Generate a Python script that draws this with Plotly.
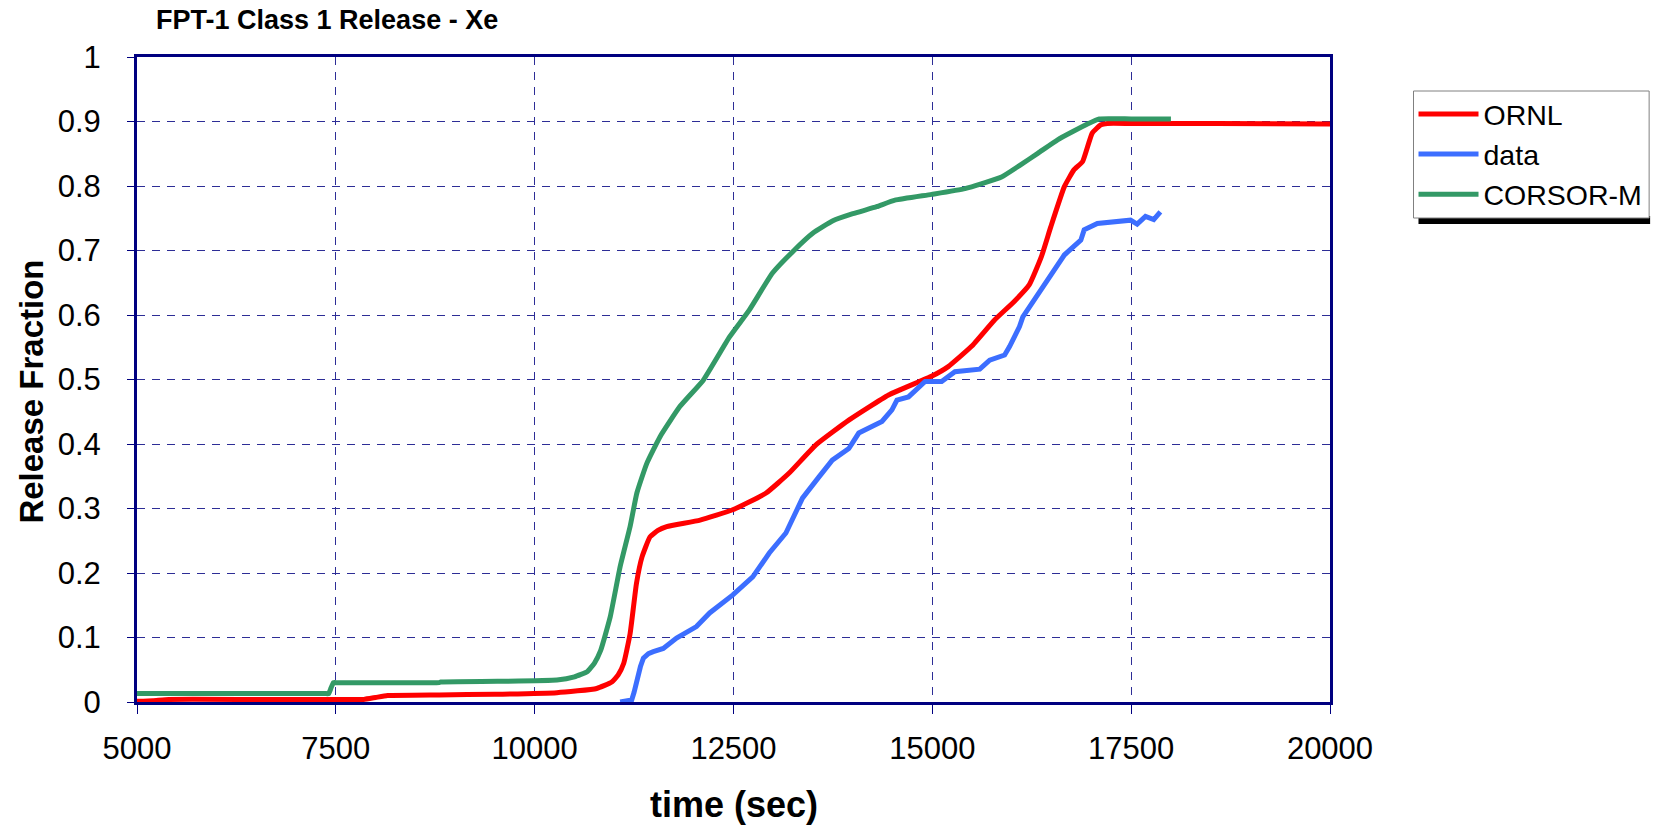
import plotly.graph_objects as go

# ORNL model release fraction
ornl_t = [5000, 5200, 5400, 6500, 7700, 7850, 8000, 8150, 8800, 9500, 10280, 10780, 10970,
          11050, 11120, 11200, 11280, 11350, 11450, 11550, 11660, 12080, 12490, 12910,
          13200, 13530, 13950, 14450, 14990, 15200, 15490, 15780, 16030, 16220,
          16370, 16490, 16660, 16780, 16890, 17010, 17120, 17200, 17500, 18575, 20000]
ornl_v = [0.001, 0.002, 0.004, 0.004, 0.004, 0.004, 0.007, 0.010, 0.011, 0.012, 0.0145,
          0.021, 0.031, 0.042, 0.06, 0.106, 0.184, 0.225, 0.256, 0.266, 0.272, 0.282,
          0.298, 0.324, 0.355, 0.398, 0.437, 0.476, 0.505, 0.52, 0.551, 0.592, 0.621,
          0.647, 0.690, 0.737, 0.799, 0.825, 0.838, 0.882, 0.895, 0.897, 0.897, 0.897,
          0.896]

# Measured release fraction
data_t = [11075, 11220, 11250, 11284, 11330, 11367, 11430, 11492, 11617, 11784, 12034,
          12200, 12492, 12742, 12950, 13159, 13284, 13367, 13575, 13742, 13950, 14075,
          14367, 14492, 14555, 14700, 14909, 15117, 15284, 15596, 15721, 15909, 15971,
          16096, 16138, 16284, 16450, 16659, 16867, 16909, 17075, 17325, 17492, 17575,
          17680, 17784, 17867]
data_v = [0, 0.003, 0.015, 0.034, 0.055, 0.068, 0.075, 0.078, 0.083, 0.099, 0.117,
          0.138, 0.166, 0.194, 0.231, 0.262, 0.293, 0.316, 0.349, 0.375, 0.393, 0.417,
          0.435, 0.453, 0.468, 0.473, 0.497, 0.497, 0.512, 0.516, 0.530, 0.538, 0.551,
          0.582, 0.597, 0.623, 0.654, 0.693, 0.716, 0.732, 0.742, 0.746, 0.747, 0.741,
          0.753, 0.748, 0.760]

# CORSOR-M model release fraction
corsor_t = [5000, 6000, 7000, 7380, 7410, 7440, 7470, 7500, 8000, 8800, 8820, 9530,
            10280, 10500, 10660, 10750, 10830, 10950, 11075, 11200, 11285, 11410,
            11575, 11825, 12120, 12450, 12700, 12990, 13260, 13500, 13750, 14000,
            14300, 14530, 14990, 15410, 15870, 16100, 16330, 16580, 16950, 17100,
            17500, 18000]
corsor_v = [0.013, 0.013, 0.013, 0.013, 0.013, 0.022, 0.030, 0.030, 0.030, 0.030,
            0.031, 0.032, 0.034, 0.039, 0.047, 0.060, 0.080, 0.132, 0.21, 0.272,
            0.324, 0.37, 0.411, 0.458, 0.499, 0.566, 0.608, 0.665, 0.70, 0.727,
            0.746, 0.757, 0.768, 0.778, 0.787, 0.796, 0.814, 0.832, 0.851, 0.872,
            0.896, 0.904, 0.904, 0.904]

x_ticks = [5000, 7500, 10000, 12500, 15000, 17500, 20000]
y_ticks = [0, 0.1, 0.2, 0.3, 0.4, 0.5, 0.6, 0.7, 0.8, 0.9, 1]
y_tick_text = ["0", "0.1", "0.2", "0.3", "0.4", "0.5", "0.6", "0.7", "0.8", "0.9", "1"]

NAVY = "#000080"
GRID = "rgb(45,45,150)"
FONT = "Liberation Sans, Arial, sans-serif"

fig = go.Figure()
fig.add_trace(go.Scatter(x=ornl_t, y=ornl_v, name="ORNL", mode="lines",
                         line=dict(color="#FF0000", width=5, shape="spline", smoothing=0.4)))
fig.add_trace(go.Scatter(x=data_t, y=data_v, name="data", mode="lines",
                         line=dict(color="#3C6EFF", width=5)))
fig.add_trace(go.Scatter(x=corsor_t, y=corsor_v, name="CORSOR-M", mode="lines",
                         line=dict(color="#339966", width=5, shape="spline", smoothing=0.4)))

W, H = 1659, 829
L, R, T, B = 137, 322, 57, 127
pw, ph = W - L - R, H - T - B


def px(x):
    return (x - L) / pw


def py(y):
    return (H - B - y) / ph


# legend frame with a drop shadow along its bottom edge
fig.add_shape(type="rect", xref="paper", yref="paper",
              x0=px(1426), x1=px(1659), y0=py(224), y1=py(216),
              fillcolor="black", line=dict(width=0), layer="below")
fig.add_shape(type="rect", xref="paper", yref="paper",
              x0=px(1421), x1=px(1658), y0=py(218), y1=py(91),
              fillcolor="white", line=dict(color="#808080", width=1), layer="below")

# axis titles
fig.add_annotation(text="<b>time (sec)</b>", xref="paper", yref="paper",
                   x=0.5, y=py(804), xanchor="center", yanchor="middle",
                   showarrow=False, font=dict(size=36, family=FONT, color="black"))
fig.add_annotation(text="<b>Release Fraction</b>", xref="paper", yref="paper",
                   x=px(30), y=py(392), xanchor="center", yanchor="middle",
                   textangle=-90, showarrow=False,
                   font=dict(size=33, family=FONT, color="black"))

fig.update_layout(
    width=W, height=H,
    margin=dict(l=L, r=R, t=T, b=B, pad=0),
    paper_bgcolor="white", plot_bgcolor="white",
    font=dict(family=FONT, color="black"),
    title=dict(text="<b>FPT-1 Class 1 Release - Xe</b>",
               font=dict(size=27, family=FONT, color="black"),
               xref="container", yref="container",
               x=156 / W, xanchor="left", y=1 - 20 / H, yanchor="middle"),
    showlegend=True,
    legend=dict(x=px(1421), y=py(89), xanchor="left", yanchor="top",
                bgcolor="rgba(0,0,0,0)", borderwidth=0,
                font=dict(size=28.5, family=FONT, color="black"),
                itemwidth=60, tracegroupgap=0),
    xaxis=dict(range=[5000, 20000], tickvals=x_ticks, ticktext=[str(v) for v in x_ticks],
               showline=True, linecolor=NAVY, linewidth=3, mirror=True,
               ticks="outside", ticklen=9, tickcolor=NAVY, tickwidth=1,
               ticklabelstandoff=8,
               showgrid=True, gridcolor=GRID, gridwidth=1, griddash="8px,7px",
               zeroline=False, tickfont=dict(size=31, family=FONT, color="black")),
    yaxis=dict(range=[0, 1], tickvals=y_ticks, ticktext=y_tick_text,
               showline=True, linecolor=NAVY, linewidth=3, mirror=True,
               ticks="outside", ticklen=7, tickcolor=NAVY, tickwidth=1,
               ticklabelstandoff=20,
               showgrid=True, gridcolor=GRID, gridwidth=1, griddash="8px,7px",
               zeroline=False, tickfont=dict(size=31, family=FONT, color="black")),
)

fig.write_html("out.html")
